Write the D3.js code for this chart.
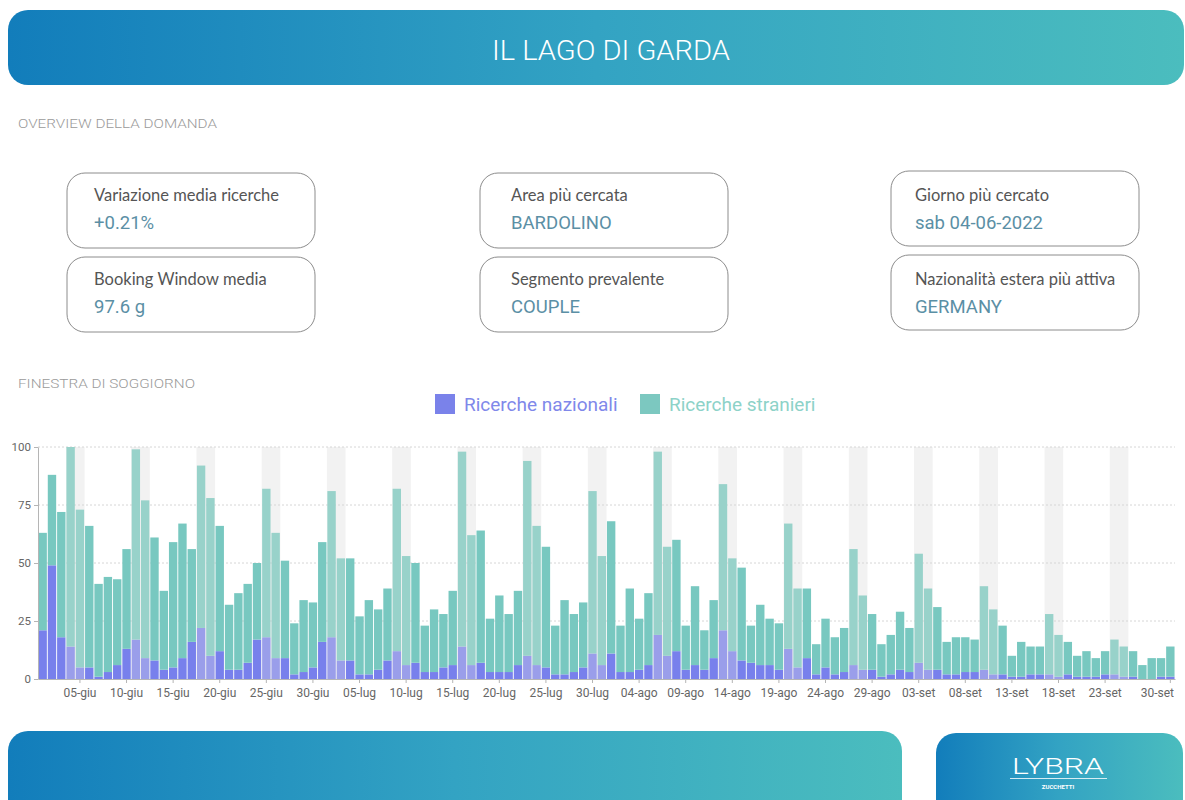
<!DOCTYPE html>
<html>
<head>
<meta charset="utf-8">
<script src="https://cdn.jsdelivr.net/npm/d3@7"></script>
<style>
  body { margin: 0; background: #fff; }
  svg { display: block; font-family: Roboto, sans-serif; }
</style>
</head>
<body>
<div id="page"></div>
<script>
// Data
const startDate = new Date(2022, 5, 1);   // 1 giugno 2022
const endDate = new Date(2022, 9, 1);     // exclusive
const monthNames = ["gen", "feb", "mar", "apr", "mag", "giu", "lug", "ago", "set", "ott", "nov", "dic"];

const tickLabels = ["05-giu", "10-giu", "15-giu", "20-giu", "25-giu", "30-giu",
  "05-lug", "10-lug", "15-lug", "20-lug", "25-lug", "30-lug",
  "04-ago", "09-ago", "14-ago", "19-ago", "24-ago", "29-ago",
  "03-set", "08-set", "13-set", "18-set", "23-set", "30-set"];

const yTicks = [0, 25, 50, 75, 100];

const nazionali = [21, 49, 18, 14, 5, 5, 1, 3, 6, 13, 17, 9, 8, 4, 5, 9, 16, 22, 10, 12,
  4, 4, 7, 17, 18, 9, 9, 2, 3, 5, 16, 18, 8, 8, 2, 2, 4, 8, 12, 6,
  7, 3, 3, 5, 6, 14, 6, 7, 3, 3, 3, 6, 10, 6, 5, 2, 2, 3, 5, 11,
  6, 11, 3, 3, 4, 6, 19, 10, 12, 4, 6, 4, 9, 21, 12, 8, 7, 6, 6, 4,
  13, 5, 9, 2, 5, 2, 3, 6, 4, 4, 1, 2, 4, 3, 7, 4, 4, 2, 2, 3,
  3, 4, 2, 2, 1, 1, 2, 2, 2, 1, 2, 1, 1, 1, 2, 2, 1, 1, 0, 0,
  1, 1];

const stranieri = [42, 39, 54, 86, 68, 61, 40, 41, 37, 43, 82, 68, 53, 34, 54, 58, 40, 70, 68, 54,
  28, 33, 34, 33, 64, 54, 42, 22, 31, 28, 43, 63, 44, 44, 25, 32, 26, 31, 70, 47,
  43, 20, 27, 23, 32, 84, 56, 57, 23, 33, 25, 32, 84, 60, 52, 21, 32, 25, 28, 70,
  47, 57, 20, 36, 22, 31, 79, 47, 48, 19, 34, 17, 25, 63, 40, 40, 16, 26, 20, 20,
  54, 34, 30, 13, 21, 16, 19, 50, 32, 24, 14, 17, 25, 19, 47, 35, 27, 14, 16, 15,
  14, 36, 28, 21, 9, 15, 12, 12, 26, 18, 14, 9, 11, 8, 10, 15, 13, 11, 6, 9,
  8, 13];

const cardLabels = ["Variazione media ricerche", "Booking Window media",
  "Area più cercata", "Segmento prevalente",
  "Giorno più cercato", "Nazionalità estera più attiva"];
const cardValues = ["+0.21%", "97.6 g", "BARDOLINO", "COUPLE", "sab 04-06-2022", "GERMANY"];

const seriesNames = ["Ricerche nazionali", "Ricerche stranieri"];

// Page
const W = 1185, H = 800;
const svg = d3.select("#page").append("svg")
  .attr("width", W)
  .attr("height", H);

const defs = svg.append("defs");
const grad = defs.append("linearGradient")
  .attr("id", "band")
  .attr("x1", "0%").attr("x2", "100%");
grad.append("stop").attr("offset", "0%").attr("stop-color", "#127dbb");
grad.append("stop").attr("offset", "50%").attr("stop-color", "#33a3c3");
grad.append("stop").attr("offset", "100%").attr("stop-color", "#4bbdbe");

// Header
svg.append("rect")
  .attr("x", 8).attr("y", 10)
  .attr("width", 1176).attr("height", 75)
  .attr("rx", 20)
  .attr("fill", "url(#band)");

svg.append("text")
  .attr("x", 611).attr("y", 60)
  .attr("text-anchor", "middle")
  .attr("font-size", 28)
  .attr("font-weight", 300)
  .attr("fill", "#ffffff")
  .attr("textLength", 238)
  .attr("lengthAdjust", "spacingAndGlyphs")
  .text("IL LAGO DI GARDA");

// Section titles
svg.append("text")
  .attr("x", 18).attr("y", 128)
  .attr("font-size", 12.5)
  .attr("font-weight", 300)
  .attr("fill", "#9a9a9a")
  .attr("textLength", 199)
  .attr("lengthAdjust", "spacingAndGlyphs")
  .text("OVERVIEW DELLA DOMANDA");

svg.append("text")
  .attr("x", 18).attr("y", 388)
  .attr("font-size", 12.5)
  .attr("font-weight", 300)
  .attr("fill", "#9a9a9a")
  .attr("textLength", 177)
  .attr("lengthAdjust", "spacingAndGlyphs")
  .text("FINESTRA DI SOGGIORNO");

// KPI cards
const cardX = [67, 67, 480, 480, 891, 891];
const cardY = [173, 257, 173, 257, 171, 255];
const textDx = [27, 27, 31, 31, 24, 24];
const textDy = [0, 0, 0, 0, 2, 2];
const cards = svg.selectAll("g.card")
  .data(cardLabels)
  .enter()
  .append("g")
  .attr("class", "card")
  .attr("transform", (d, i) => `translate(${cardX[i]},${cardY[i]})`);

cards.append("rect")
  .attr("width", 248).attr("height", 75)
  .attr("rx", 18)
  .attr("fill", "none")
  .attr("stroke", "#8c8c8c")
  .attr("stroke-width", 1);

cards.append("text")
  .attr("x", (d, i) => textDx[i])
  .attr("y", (d, i) => 28 + textDy[i])
  .attr("font-family", "Lato, 'Open Sans', sans-serif")
  .attr("font-size", 16.5)
  .attr("fill", "#555")
  .text(d => d);

cards.append("text")
  .attr("x", (d, i) => textDx[i])
  .attr("y", (d, i) => 56 + textDy[i])
  .attr("font-size", 18.5)
  .attr("fill", "#5b8fa5")
  .text((d, i) => cardValues[i]);

// Legend
const legendX = [435, 640];
const legendColor = ["#7a82ea", "#7cc8c0"];
const legendText = ["#8088ea", "#8dd2c8"];
const legend = svg.selectAll("g.leg")
  .data(seriesNames)
  .enter()
  .append("g")
  .attr("class", "leg")
  .attr("transform", (d, i) => `translate(${legendX[i]},394)`);
legend.append("rect")
  .attr("width", 20).attr("height", 20)
  .attr("fill", (d, i) => legendColor[i]);
legend.append("text")
  .attr("x", 29).attr("y", 17)
  .attr("font-size", 19)
  .attr("fill", (d, i) => legendText[i])
  .text(d => d);

// Chart
const dates = d3.timeDay.range(startDate, endDate);
const fmt = d => d3.timeFormat("%d")(d) + "-" + monthNames[d.getMonth()];
const rows = dates.map((d, i) => ({ date: d, naz: nazionali[i], str: stranieri[i] }));
const isWeekend = d => d.getDay() === 6 || d.getDay() === 0;

const x = d3.scaleBand()
  .domain(dates)
  .range([38, 1175])
  .paddingInner(0.1)
  .paddingOuter(0.05);

const y = d3.scaleLinear()
  .domain([0, 100])
  .range([679, 447]);

// weekend bands
const saturdays = dates.filter(d => d.getDay() === 6);
svg.append("g")
  .selectAll("rect")
  .data(saturdays)
  .enter()
  .append("rect")
  .attr("x", d => x(d) - x.step() * x.paddingInner() / 2)
  .attr("width", x.step() * 2)
  .attr("y", y(100))
  .attr("height", y(0) - y(100))
  .attr("fill", "#f2f2f2");

// gridlines
svg.append("g")
  .selectAll("line")
  .data(yTicks.filter(t => t > 0))
  .enter()
  .append("line")
  .attr("x1", 38).attr("x2", 1175)
  .attr("y1", d => y(d)).attr("y2", d => y(d))
  .attr("stroke", "#d6d6d6")
  .attr("stroke-dasharray", "2,2");

// stacked bars
const stack = d3.stack().keys(["naz", "str"]);
const series = stack(rows);
const fills = {
  naz: ["#7880ec", "#9a9eea"],
  str: ["#78c8c0", "#98d2ca"]
};

svg.append("g")
  .selectAll("g")
  .data(series)
  .enter()
  .append("g")
  .selectAll("rect")
  .data(s => s.map(v => Object.assign(v, { key: s.key })))
  .enter()
  .append("rect")
  .attr("x", d => x(d.data.date))
  .attr("width", x.bandwidth())
  .attr("y", d => y(d[1]))
  .attr("height", d => y(d[0]) - y(d[1]))
  .attr("fill", d => fills[d.key][isWeekend(d.data.date) ? 1 : 0]);

// axes
const tickDates = dates.filter(d => tickLabels.includes(fmt(d)));
const xAxis = svg.append("g")
  .attr("transform", `translate(0,${y(0)})`)
  .call(d3.axisBottom(x).tickValues(tickDates).tickFormat(fmt).tickSize(4).tickSizeOuter(0));
xAxis.select(".domain").attr("stroke", "#b5b5b5");
xAxis.selectAll(".tick line").attr("stroke", "#b5b5b5");
xAxis.selectAll("text")
  .attr("font-size", 12)
  .attr("font-family", "Roboto, sans-serif")
  .attr("fill", "#666")
  .attr("dy", "0.9em");
// last label is kept inside the page, as in the reference
xAxis.selectAll(".tick:last-of-type text")
  .attr("text-anchor", "end")
  .attr("dx", "0.3em");

const yAxis = svg.append("g")
  .attr("transform", "translate(38,0)")
  .call(d3.axisLeft(y).tickValues(yTicks).tickSize(4).tickSizeOuter(0));
yAxis.select(".domain").attr("stroke", "#b5b5b5");
yAxis.selectAll(".tick line").attr("stroke", "#b5b5b5");
yAxis.selectAll("text")
  .attr("font-size", 11.5)
  .attr("font-family", "Roboto, sans-serif")
  .attr("fill", "#666");

// Footer
svg.append("rect")
  .attr("x", 8).attr("y", 731)
  .attr("width", 894).attr("height", 90)
  .attr("rx", 20)
  .attr("fill", "url(#band)");
svg.append("rect")
  .attr("x", 936).attr("y", 733)
  .attr("width", 247).attr("height", 90)
  .attr("rx", 20)
  .attr("fill", "url(#band)");

svg.append("text")
  .attr("x", 1058).attr("y", 774)
  .attr("text-anchor", "middle")
  .attr("font-size", 22)
  .attr("font-weight", 300)
  .attr("fill", "#fff")
  .attr("textLength", 92)
  .attr("lengthAdjust", "spacingAndGlyphs")
  .text("LYBRA");
svg.append("line")
  .attr("x1", 1010).attr("x2", 1107)
  .attr("y1", 778.5).attr("y2", 778.5)
  .attr("stroke", "#fff")
  .attr("stroke-opacity", 0.8);
svg.append("text")
  .attr("x", 1058).attr("y", 789)
  .attr("text-anchor", "middle")
  .attr("font-size", 6)
  .attr("font-weight", 700)
  .attr("fill", "#fff")
  .text("ZUCCHETTI");
</script>
</body>
</html>
